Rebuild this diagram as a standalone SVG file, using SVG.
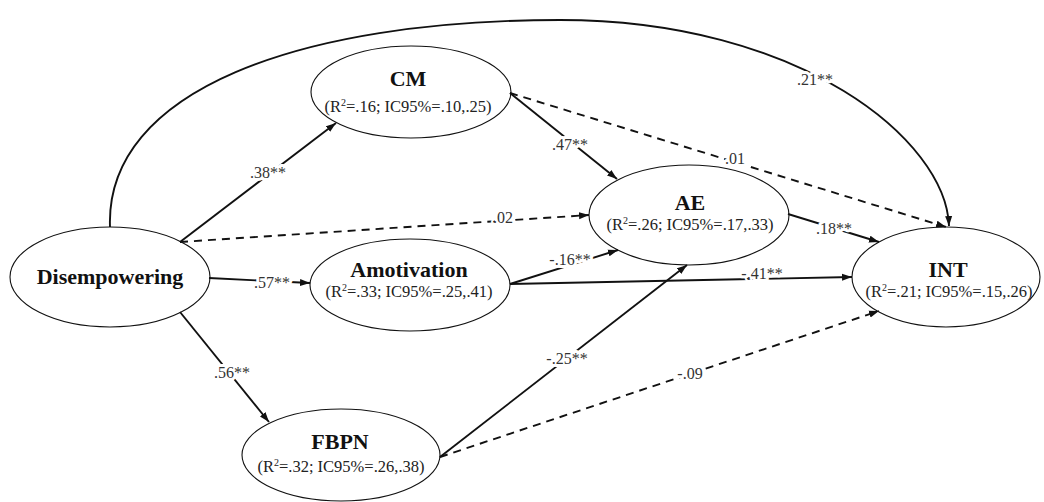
<svg xmlns="http://www.w3.org/2000/svg" width="1044" height="502" viewBox="0 0 1044 502">
  <style>
    .node ellipse { fill: #fff; stroke: #111; stroke-width: 1.1; }
    .name { font-family: "Liberation Serif", "Times New Roman", serif; font-weight: bold; font-size: 22px; fill: #111; text-anchor: middle; }
    .stat { font-family: "Liberation Serif", "Times New Roman", serif; font-size: 16.5px; fill: #222; text-anchor: middle; }
    .sup { font-size: 10px; }
    .edge { fill: none; stroke: #111; stroke-width: 1.9; marker-end: url(#arr); }
    .dash { stroke-dasharray: 8 6; }
    .coef { font-family: "Liberation Serif", "Times New Roman", serif; font-size: 16px; fill: #333; text-anchor: middle; stroke: #fff; stroke-width: 6; stroke-linejoin: round; paint-order: stroke; }
  </style>
  <defs>
    <marker id="arr" viewBox="0 0 10 8" refX="10" refY="4" markerWidth="10" markerHeight="8" markerUnits="userSpaceOnUse" orient="auto">
      <path d="M0,0.5 L10,4 L0,7.5 z" fill="#111"/>
    </marker>
  </defs>
  <rect width="1044" height="502" fill="#fff"/>

  <!-- nodes -->
  <g id="disempowering" class="node">
    <ellipse cx="110" cy="277" rx="100" ry="50"/>
    <text class="name" x="110" y="284">Disempowering</text>
  </g>
  <g id="cm" class="node">
    <ellipse cx="411" cy="92" rx="100" ry="46"/>
    <text class="name" x="408" y="86">CM</text>
    <text class="stat" x="408" y="112">(R<tspan class="sup" dy="-6">2</tspan><tspan dy="6">=.16; IC95%=.10,.25)</tspan></text>
  </g>
  <g id="ae" class="node">
    <ellipse cx="689" cy="215" rx="100" ry="50"/>
    <text class="name" x="690" y="210">AE</text>
    <text class="stat" x="690" y="230">(R<tspan class="sup" dy="-6">2</tspan><tspan dy="6">=.26; IC95%=.17,.33)</tspan></text>
  </g>
  <g id="amotivation" class="node">
    <ellipse cx="410" cy="285" rx="100" ry="46"/>
    <text class="name" x="409" y="277">Amotivation</text>
    <text class="stat" x="409" y="297">(R<tspan class="sup" dy="-6">2</tspan><tspan dy="6">=.33; IC95%=.25,.41)</tspan></text>
  </g>
  <g id="int" class="node">
    <ellipse cx="946" cy="277" rx="94" ry="50"/>
    <text class="name" x="948" y="277">INT</text>
    <text class="stat" x="949" y="297">(R<tspan class="sup" dy="-6">2</tspan><tspan dy="6">=.21; IC95%=.15,.26)</tspan></text>
  </g>
  <g id="fbpn" class="node">
    <ellipse cx="341" cy="455" rx="99" ry="46"/>
    <text class="name" x="340" y="449">FBPN</text>
    <text class="stat" x="341" y="472">(R<tspan class="sup" dy="-6">2</tspan><tspan dy="6">=.32; IC95%=.26,.38)</tspan></text>
  </g>

  <!-- connectors -->
  <g id="connectors">
    <path class="edge" d="M110,227 C105,90 300,20 560,20 C800,20 946,140 949,226"/>
    <path class="edge" d="M180,242 L336,123"/>
    <path class="edge dash" d="M180,242 L589,215"/>
    <path class="edge" d="M209,278 L310,283"/>
    <path class="edge" d="M180,312 L269,422"/>
    <path class="edge" d="M510,93 L617,179"/>
    <path class="edge dash" d="M510,93 L946,227"/>
    <path class="edge" d="M510,284 L618,250"/>
    <path class="edge" d="M510,284 L852,277"/>
    <path class="edge" d="M788,214 L879,242"/>
    <path class="edge" d="M440,457 L687,265"/>
    <path class="edge dash" d="M440,457 L879,311"/>

    <text class="coef" x="815" y="85">.21**</text>
    <text class="coef" x="268" y="178">.38**</text>
    <text class="coef" x="570" y="150">.47**</text>
    <text class="coef" x="735" y="164">.01</text>
    <text class="coef" x="503" y="223">.02</text>
    <text class="coef" x="272" y="288">.57**</text>
    <text class="coef" x="570" y="265">-.16**</text>
    <text class="coef" x="762" y="279">-.41**</text>
    <text class="coef" x="834" y="234">.18**</text>
    <text class="coef" x="232" y="378">.56**</text>
    <text class="coef" x="567" y="364">-.25**</text>
    <text class="coef" x="690" y="379">-.09</text>
  </g>
</svg>
